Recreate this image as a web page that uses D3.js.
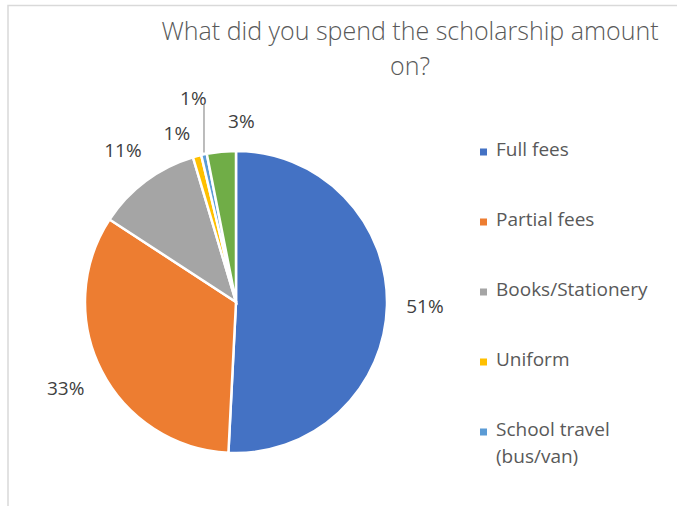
<html>
<head>
    <title>Scholarship spending</title>
    <style>
      body { margin: 0; background: #fff; }
      text { font-family: "Open Sans", "DejaVu Sans", sans-serif; }
    </style>
</head>
<body>
<div id="chart"></div>
<script src="https://d3js.org/d3.v7.min.js" charset="utf-8"></script>
<script>
    const categories = ["Full fees", "Partial fees", "Books/Stationery", "Uniform", "School travel (bus/van)", "Other"];
    const values = [50.8, 33.4, 11.2, 0.9, 0.6, 3.1];
    const colors = ["#4472C4", "#ED7D31", "#A5A5A5", "#FFC000", "#5B9BD5", "#70AD47"];
    const titleLines = ["What did you spend the scholarship amount", "on?"];
    // the legend box is too short, only the first five entries are shown
    const legendCount = 5;

    const W = 677, H = 506;
    const cx = 236, cy = 302, R = 151;

    // manual nudges for the crowded small labels near the top
    const labelNudge = {
        "Uniform": [-12, 8],
        "School travel (bus/van)": [-4, -25],
        "Other": [23, 0]
    };
    const withLeader = ["School travel (bus/van)"];

    const svg = d3.select("#chart").append("svg")
        .attr("width", W)
        .attr("height", H);

    svg.append("rect")
        .attr("x", 8).attr("y", 5.5)
        .attr("width", W).attr("height", H)
        .attr("fill", "#fff")
        .attr("stroke", "#d9d9d9")
        .attr("stroke-width", 1.5);

    svg.append("text")
        .attr("text-anchor", "middle")
        .attr("fill", "#595959")
        .style("font-size", "25px")
        .style("font-weight", 300)
        .selectAll("tspan")
        .data(titleLines)
        .join("tspan")
        .attr("x", 410)
        .attr("y", (d, i) => 40 + i * 35)
        .text(d => d);

    const total = d3.sum(values);
    const pct = d3.format(".0%");
    const arcs = d3.pie().sort(null)(values);
    const arc = d3.arc().innerRadius(0).outerRadius(R);

    const g = svg.append("g").attr("transform", "translate(" + cx + "," + cy + ")");

    g.selectAll("path")
        .data(arcs)
        .join("path")
        .attr("d", arc)
        .attr("fill", (d, i) => colors[i])
        .attr("stroke", "#fff")
        .attr("stroke-width", 2.5);

    // data labels, placed just outside the rim like Excel's best fit
    const gap = 19;
    const labels = g.selectAll("text.lbl")
        .data(arcs)
        .join("text")
        .attr("class", "lbl")
        .attr("text-anchor", "middle")
        .attr("dy", "0.35em")
        .attr("fill", "#404040")
        .style("font-size", "19px")
        .text(d => pct(d.value / total));

    labels.each(function(d, i) {
        const w = this.getComputedTextLength();
        const h = 20;
        const a = (d.startAngle + d.endAngle) / 2;
        const ux = Math.sin(a), uy = -Math.cos(a);
        const dist = R + gap + Math.abs(ux) * w / 2 + Math.abs(uy) * h / 2;
        const nudge = labelNudge[categories[i]] || [0, 0];
        const x = ux * dist + nudge[0];
        const y = uy * dist + nudge[1];
        d3.select(this).attr("x", x).attr("y", y);
        if (withLeader.includes(categories[i])) {
            const px = ux * R, py = uy * R;
            g.append("line")
                .attr("x1", px).attr("y1", py - 2)
                .attr("x2", px).attr("y2", y + 6)
                .attr("stroke", "#a6a6a6")
                .attr("stroke-width", 1.5);
        }
    });

    // legend
    const legend = svg.append("g");
    const item = legend.selectAll("g")
        .data(categories.slice(0, legendCount))
        .join("g")
        .attr("transform", (d, i) => "translate(480," + (156 + i * 70) + ")");

    item.append("rect")
        .attr("x", 0).attr("y", -7.5)
        .attr("width", 7).attr("height", 7)
        .attr("fill", (d, i) => colors[i]);

    item.append("text")
        .attr("fill", "#595959")
        .style("font-size", "19px")
        .each(function(d) {
            const t = d3.select(this);
            const words = d.split(" ");
            let line = [], lineNo = 0;
            let tspan = t.append("tspan").attr("x", 16).attr("y", 0);
            words.forEach(function(word) {
                line.push(word);
                tspan.text(line.join(" "));
                if (tspan.node().getComputedTextLength() > 165 && line.length > 1) {
                    line.pop();
                    tspan.text(line.join(" "));
                    line = [word];
                    lineNo++;
                    tspan = t.append("tspan").attr("x", 16).attr("y", lineNo * 27).text(word);
                }
            });
        });
</script>
</body>
</html>
